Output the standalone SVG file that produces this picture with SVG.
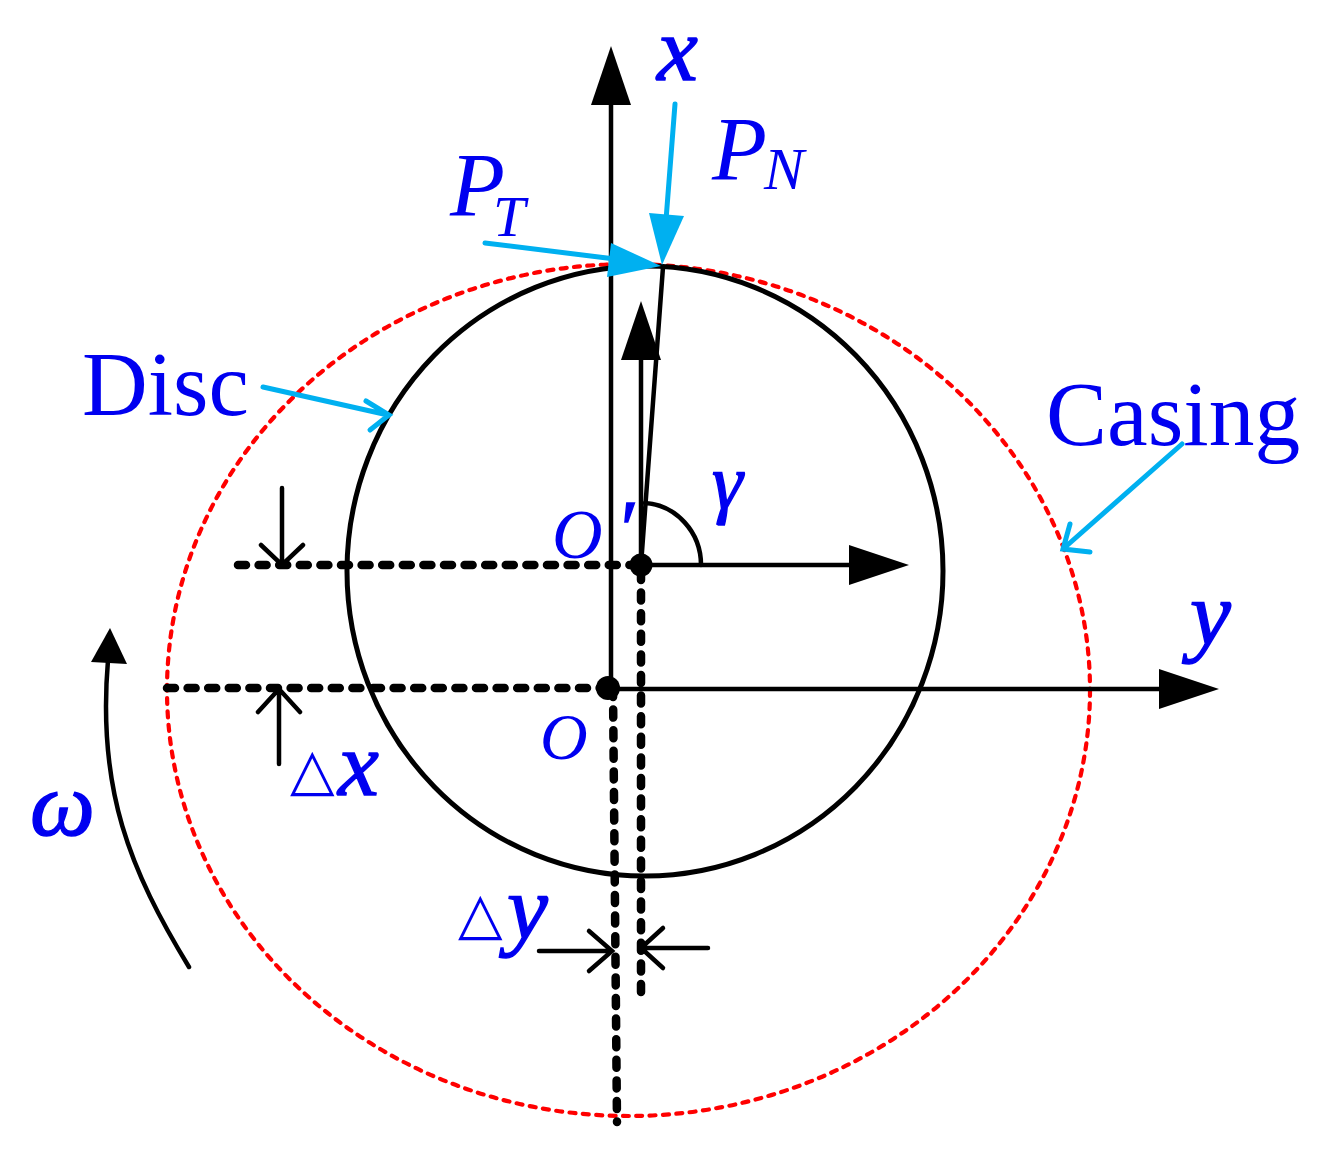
<svg xmlns="http://www.w3.org/2000/svg" width="1335" height="1164" viewBox="0 0 1335 1164">
<style>
text{font-family:"Liberation Serif","Times New Roman",serif;fill:#0000f0}
.i{font-style:italic}
.h{font-style:italic;stroke:#0000f0;stroke-width:1.4}
.t{font-family:"DejaVu Sans",sans-serif}
.k{fill:none;stroke:#000;stroke-width:4.5;stroke-linecap:round}
.d{fill:none;stroke:#000;stroke-width:8.5;stroke-linecap:round;stroke-dasharray:8 12.6}
.c{fill:none;stroke:#00b0f0;stroke-width:5;stroke-linecap:round}
.f{fill:#000}
.b{fill:#00b0f0}
</style>
<rect width="1335" height="1164" fill="#fff"/>
<g id="casing"><ellipse cx="628.5" cy="690" rx="461.5" ry="426" fill="none" stroke="#f00" stroke-width="4.2" stroke-linecap="round" stroke-dasharray="6 7.4"/></g>
<g id="disc"><ellipse cx="645" cy="571" rx="298" ry="305" fill="none" stroke="#000" stroke-width="5"/></g>
<g id="connectors">
<path class="k" d="M611 688V100"/><polygon class="f" points="611,46 591,105 631,105"/>
<path class="k" d="M608 689H1165"/><polygon class="f" points="1219,689 1159,669 1159,709"/>
<path class="k" d="M641 565H855"/><polygon class="f" points="909,565 849,545 849,585"/>
<path class="k" d="M641 565V355"/><polygon class="f" points="641,301 621,360 661,360"/>
<path class="k" d="M641 565L663 267"/>
<path class="k" d="M645 503C676 505 701 532 701 565"/>
<path class="d" d="M238 565H640"/>
<path class="d" d="M167 688H606"/>
<path class="d" d="M641 572V996"/>
<path class="d" d="M613 689L617 1122"/>
<circle class="f" cx="641" cy="565" r="11.5"/>
<circle class="f" cx="608" cy="688" r="12"/>
<path class="k" d="M282 488V565M261 545L282 565L303 545"/>
<path class="k" d="M279 764V689M258 712L279 689L300 712"/>
<path class="k" d="M539 951H612M589 931L612 951L589 971"/>
<path class="k" d="M708 948H641M663 928L641 948L663 968"/>
<path class="k" d="M189 967C130 870 97 790 108 660"/><polygon class="f" points="110,628 91,662 127,664"/>
<path class="c" d="M485 243L615 259"/><polygon class="b" points="661,266 611,243 607,277"/>
<path class="c" d="M675 104L666 220"/><polygon class="b" points="662,265 649,213 684,216"/>
<path class="c" d="M263 387L388 415M366 401L389 415L370 430"/>
<path class="c" d="M1182 444L1063 549M1070 524L1063 549L1090 552"/>
</g>
<g id="labels">
<text class="h" x="657" y="80" font-size="92">x</text>
<text class="i" x="712" y="180" font-size="90">P</text>
<text class="i" x="764" y="189" font-size="60">N</text>
<text class="i" x="450" y="216" font-size="90">P</text>
<text class="i" x="493" y="236" font-size="58">T</text>
<text x="82" y="415" font-size="91">Disc</text>
<text x="1046" y="445" font-size="91.5">Casing</text>
<text class="i" x="552" y="558" font-size="70">O</text>
<text class="h" x="616" y="556" font-size="80">′</text>
<text class="h" x="712" y="508" font-size="78">γ</text>
<text class="h" x="1190" y="645" font-size="92">y</text>
<text class="i" x="540" y="759" font-size="66">O</text>
<text class="t" x="290" y="789" font-size="58">△</text>
<text class="h" x="338" y="795" font-size="92">x</text>
<text class="h" x="30" y="835" font-size="92">ω</text>
<text class="t" x="458" y="933" font-size="58">△</text>
<text class="h" x="507" y="939" font-size="92">y</text>
</g>
</svg>
